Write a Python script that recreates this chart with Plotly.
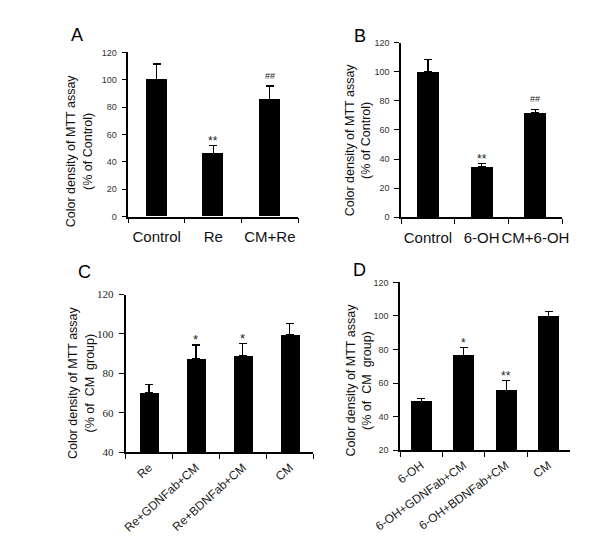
import plotly.graph_objects as go

W, H = 600, 557
OFF = 8  # page body margin compensation (px)

# ---- data ----
catA = ["Control", "Re", "CM+Re"]
valA = [100, 46, 85.5]
errA = [11.5, 5.8, 10]
sigA = ["", "**", "##"]

catB = ["Control", "6-OH", "CM+6-OH"]
valB = [100, 34.5, 72]
errB = [8.5, 2.3, 2.2]
sigB = ["", "**", "##"]

catC = ["Re", "Re+GDNFab+CM", "Re+BDNFab+CM", "CM"]
valC = [70, 87.6, 88.8, 99.7]
errC = [4.2, 6.8, 6.2, 5.4]
sigC = ["", "*", "*", ""]

catD = ["6-OH", "6-OH+GDNFab+CM", "6-OH+BDNFab+CM", "CM"]
valD = [48.8, 76.2, 55.6, 99.9]
errD = [1.8, 4.9, 5.8, 2.8]
sigD = ["", "*", "**", ""]

ytitleAB = "Color density of MTT assay<br>(% of Control)"
ytitleCD = "Color density of MTT assay<br>(% of  CM  group)"


def px_x(p):
    return (p - OFF) / W


def px_y(p):
    return 1 - (p - OFF) / H


panels = [
    dict(c=catA, v=valA, e=errA, s=sigA, xd=(107, 287), yd=(215, 47.3), yr=[0, 120], dt=20, bw=0.37,
         tickfont=dict(family="Arial, Liberation Sans", size=9, color="#333"),
         catfont=dict(family="Arial, Liberation Sans", size=15, color="#111"), angle=0,
         title=ytitleAB, tpos=(55, 148), letter="A", lpos=(53, 29), sigsize=[12, 9]),
    dict(c=catB, v=valB, e=errB, s=sigB, xd=(396, 567), yd=(215.7, 37.3), yr=[0, 120], dt=20, bw=0.41,
         tickfont=dict(family="Arial, Liberation Sans", size=9, color="#333"),
         catfont=dict(family="Arial, Liberation Sans", size=15, color="#111"), angle=0,
         title=ytitleAB, tpos=(350.5, 137), letter="B", lpos=(352, 30), sigsize=[12, 9]),
    dict(c=catC, v=valC, e=errC, s=sigC, xd=(104, 303), yd=(455.7, 294.7), yr=[40, 120], dt=20, bw=0.41,
         tickfont=dict(family="Liberation Serif, Times New Roman", size=11, color="#222"),
         catfont=dict(family="Arial, Liberation Sans", size=12, color="#222"), angle=-42,
         title=ytitleCD, tpos=(57, 385), letter="C", lpos=(61, 271.5), sigsize=[13, 13]),
    dict(c=catD, v=valD, e=errD, s=sigD, xd=(395, 575), yd=(453.7, 282.3), yr=[20, 120], dt=20, bw=0.49,
         tickfont=dict(family="Arial, Liberation Sans", size=9, color="#333"),
         catfont=dict(family="Arial, Liberation Sans", size=12, color="#222"), angle=-36,
         title=ytitleCD, tpos=(351, 382), letter="D", lpos=(352, 270), sigsize=[12, 12]),
]

fig = go.Figure()
annotations = []

for i, p in enumerate(panels):
    n = "" if i == 0 else str(i + 1)
    xa, ya = "x" + n, "y" + n
    fig.add_trace(go.Bar(
        x=p["c"], y=p["v"], xaxis=xa, yaxis=ya, width=p["bw"],
        marker=dict(color="black", line=dict(color="black", width=0)),
        error_y=dict(type="data", array=p["e"], arrayminus=[0] * len(p["e"]), symmetric=False,
                     color="black", thickness=1.2, width=4),
        showlegend=False, hoverinfo="skip",
    ))
    xkey = "xaxis" + n
    ykey = "yaxis" + n
    fig.update_layout({
        xkey: dict(domain=[px_x(p["xd"][0]), px_x(p["xd"][1])], anchor=ya,
                   type="category", range=[-0.5, len(p["c"]) - 0.5],
                   showline=True, linecolor="black", linewidth=1.6,
                   ticks="outside", tickson="boundaries", ticklen=5, tickwidth=1.4, tickcolor="black",
                   tickfont=p["catfont"], tickangle=p["angle"], showgrid=False, zeroline=False,
                   ticklabelstandoff=6 if p["angle"] == 0 else 2, fixedrange=True),
        ykey: dict(domain=[px_y(p["yd"][0]), px_y(p["yd"][1])], anchor=xa,
                   range=p["yr"], dtick=p["dt"], tick0=0,
                   showline=True, linecolor="black", linewidth=1.6,
                   ticks="outside", ticklen=5, tickwidth=1.4, tickcolor="black",
                   tickfont=p["tickfont"], showgrid=False, zeroline=False,
                   ticklabelstandoff=3, fixedrange=True),
    })
    for c, v, e, s in zip(p["c"], p["v"], p["e"], p["s"]):
        if s:
            star = "*" in s
            annotations.append(dict(
                x=c, y=v + e, xref=xa, yref=ya, text=s, showarrow=False,
                yanchor="bottom", yshift=(-4 if star else 3),
                font=dict(family="Arial, Liberation Sans", size=p["sigsize"][0] if star else p["sigsize"][1],
                          color="#222"),
            ))
    annotations.append(dict(
        x=px_x(p["tpos"][0]), y=px_y(p["tpos"][1]), xref="paper", yref="paper",
        text=p["title"], textangle=-90, showarrow=False, xanchor="center", yanchor="middle",
        font=dict(family="Arial, Liberation Sans", size=12.5, color="#111"),
    ))
    annotations.append(dict(
        x=px_x(p["lpos"][0]), y=px_y(p["lpos"][1]), xref="paper", yref="paper",
        text=p["letter"], showarrow=False, xanchor="center", yanchor="middle",
        font=dict(family="Arial, Liberation Sans", size=18, color="black"),
    ))

fig.update_layout(
    width=W, height=H, margin=dict(l=0, r=0, t=0, b=0),
    paper_bgcolor="white", plot_bgcolor="white",
    annotations=annotations, bargap=0,
)

fig.write_html("out.html", config=dict(displayModeBar=False))
